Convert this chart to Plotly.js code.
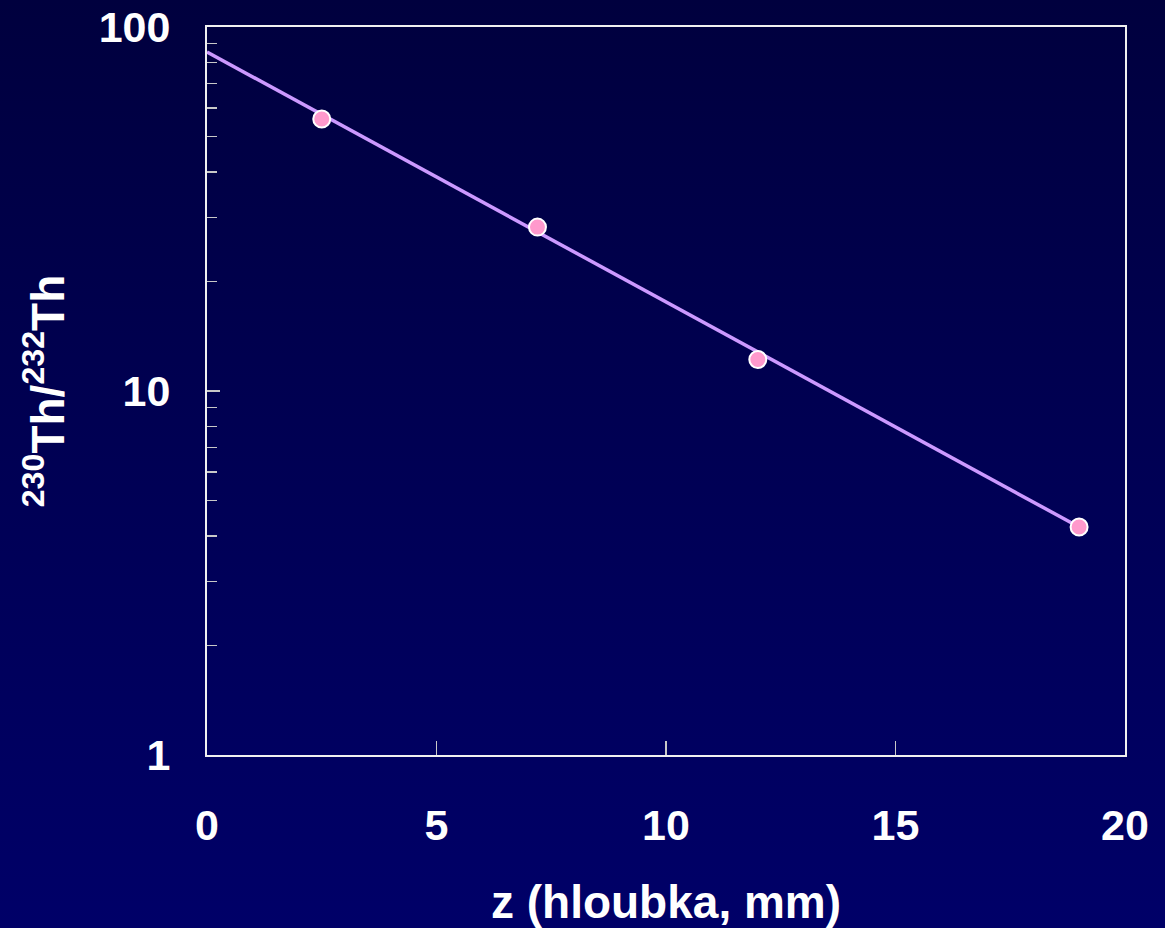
<!DOCTYPE html>
<html>
<head>
<meta charset="utf-8">
<script src="https://cdn.plot.ly/plotly-3.0.1.min.js"></script>
<style>
  html, body { margin:0; padding:0; width:1165px; height:928px; overflow:hidden;
    background: linear-gradient(to bottom, #00003e 0%, #000054 50%, #000068 100%); }
  #chart { width:1165px; height:928px; }
</style>
</head>
<body>
<div id="chart"></div>
<script>
// Measured points
const depth = [2.5, 7.2, 12.0, 19.0];
const ratio = [55.9, 28.2, 12.2, 4.23];
// Fitted exponential line (end points)
const fitDepth = [0, 19.0];
const fitRatio = [85.4, 4.23];
// Ticks
const xTickVals = [0, 5, 10, 15, 20];
const yTickVals = [1, 10, 100];
const yTickText = ['1', '10', '100'];
const yMinorVals = [2,3,4,5,6,7,8,9,20,30,40,50,60,70,80,90];

const font = 'Liberation Sans, Arial, Helvetica, sans-serif';

const traces = [
  { x: fitDepth, y: fitRatio, mode: 'lines', type: 'scatter',
    line: { color: '#cc99ff', width: 3.5 }, hoverinfo: 'skip' },
  { x: depth, y: ratio, mode: 'markers', type: 'scatter',
    marker: { color: '#ff99cc', size: 17, line: { color: '#ffffff', width: 2 } } }
];

const layout = {
  width: 1165, height: 928,
  paper_bgcolor: 'rgba(0,0,0,0)', plot_bgcolor: 'rgba(0,0,0,0)',
  showlegend: false,
  margin: { l: 207, r: 40, t: 27, b: 173 },
  font: { family: font, color: '#ffffff' },
  xaxis: {
    range: [0, 20], tickmode: 'array', tickvals: xTickVals,
    ticks: 'inside', ticklen: 14, tickwidth: 1.5, tickcolor: '#c8c8c8',
    showline: true, linecolor: '#f0f0f0', linewidth: 2, mirror: true,
    showgrid: false, zeroline: false,
    tickfont: { family: font, size: 43, color: '#ffffff', weight: 'bold' },
    ticklabelstandoff: 31,
    title: { text: '<b>z (hloubka, mm)</b>', font: { family: font, size: 46, color: '#ffffff' }, standoff: 40 }
  },
  yaxis: {
    type: 'log', range: [0, 2], tickmode: 'array', tickvals: yTickVals, ticktext: yTickText,
    ticks: 'inside', ticklen: 13, tickwidth: 1.5, tickcolor: '#c8c8c8',
    minor: { tickmode: 'array', tickvals: yMinorVals, ticks: 'inside', ticklen: 10, tickwidth: 1.5, tickcolor: '#c8c8c8', showgrid: false },
    showline: true, linecolor: '#f0f0f0', linewidth: 2, mirror: true,
    showgrid: false, zeroline: false,
    tickfont: { family: font, size: 43, color: '#ffffff', weight: 'bold' },
    ticklabelstandoff: 26,
    title: { text: '<b><sup>230</sup>Th/<sup>232</sup>Th</b>', font: { family: font, size: 46, color: '#ffffff' }, standoff: 20 }
  }
};

Plotly.newPlot('chart', traces, layout, { displayModeBar: false, staticPlot: true });
</script>
</body>
</html>
